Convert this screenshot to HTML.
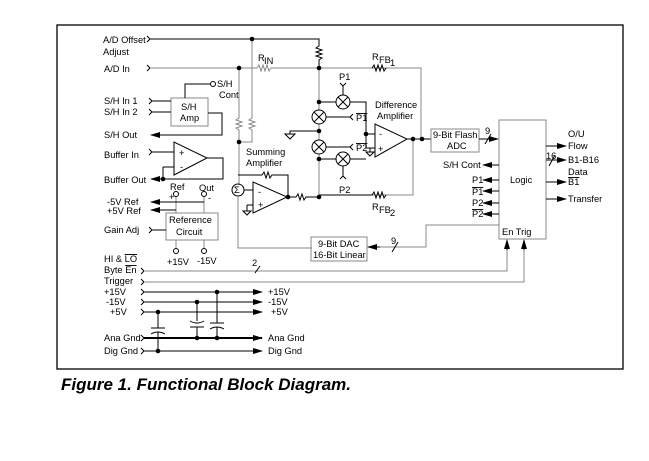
<!DOCTYPE html>
<html><head><meta charset="utf-8"><style>
body{margin:0;background:#fff;width:649px;height:456px;overflow:hidden}
svg text{font-family:"Liberation Sans Narrow","Liberation Sans",sans-serif;font-size:9.3px;fill:#000}
</style></head><body>
<svg width="649" height="456" viewBox="0 0 649 456" xmlns="http://www.w3.org/2000/svg">
<defs>
<marker id="a" markerWidth="10" markerHeight="6" refX="9" refY="3" orient="auto" markerUnits="userSpaceOnUse"><path d="M0,0 L10,3 L0,6 z" fill="#000"/></marker>
</defs>
<g fill="none" stroke="#000" stroke-width="1">
<!-- frame -->
<rect x="57" y="25" width="566" height="344" stroke-width="1.3"/>
<!-- A/D offset -->
<path d="M147,36 l3,3 l-3,3"/><path d="M150,39 H319 V46 l-3,2 l6,2 l-6,2 l6,2 l-6,2 l6,2 l-3,2 V68"/>
<!-- A/D In -->
<path d="M147,65 l3,3 l-3,3"/>
<path d="M150,68 H257 l2,-3 l2,6 l2,-6 l2,6 l2,-6 l2,6 l2,-3 H421 V139" stroke="#888"/>
<path d="M372,68 l2,-3 l2,6 l2,-6 l2,6 l2,-6 l2,6 l2,-3" />
<!-- verticals -->
<path d="M252,39 V118 l-3,2 l6,2 l-6,2 l6,2 l-6,2 l3,2 V142 H239" stroke="#888"/>
<path d="M239,68 V118 l-3,2 l6,2 l-6,2 l6,2 l-6,2 l3,2 V185" stroke="#888"/>
<circle cx="238" cy="190" r="6"/>
<path d="M238,196 V248 H312" stroke="#888"/>
<!-- summing amp -->
<path d="M253,182 L253,213 L287,197 Z"/>
<path d="M238,175 H262 l2,-3 l2,6 l2,-6 l2,6 l2,-3 H288 V197" stroke="#000"/>
<path d="M244,190 H253"/><path d="M247,205 H253"/><path d="M247,205 V211 M243,211 h8 l-4,4 z"/>
<path d="M287,197 H296 l2,-3 l2,6 l2,-6 l2,6 l2,-3 H319"/>
<!-- left vertical in diff section -->
<path d="M319,68 V195 H413 V139" stroke="#888"/>
<path d="M319,195 H372 l2,-3 l2,6 l2,-6 l2,6 l2,-6 l2,6 l2,-3" stroke="#000"/>
<!-- multipliers -->
<circle cx="319" cy="117" r="7" fill="#fff"/><path d="M314,112 l10,10 M324,112 l-10,10"/>
<circle cx="319" cy="147" r="7" fill="#fff"/><path d="M314,142 l10,10 M324,142 l-10,10"/>
<circle cx="343" cy="102" r="7" fill="#fff"/><path d="M338,97 l10,10 M348,97 l-10,10"/>
<circle cx="343" cy="159" r="7" fill="#fff"/><path d="M338,154 l10,10 M348,154 l-10,10"/>
<path d="M319,102 H336 M319,159 H336"/>
<path d="M343,95 V86 M340,83 l3,3 l3,-3 M343,166 V176 M340,179 l3,-3 l3,3"/>
<path d="M326,117 H350 M353,114 l-3,3 l3,3 M326,147 H350 M353,144 l-3,3 l3,3"/>
<path d="M350,102 H366 V148 H375 M350,159 H366 M366,134 H375"/>
<path d="M319,131 H290 V134 M285,134 h10 l-5,5 z"/>
<path d="M370,148 V152 M366,152 h8 l-4,4 z"/>
<!-- diff amp -->
<path d="M375,124 L375,157 L407,139 Z"/>
<path d="M407,139 H431"/>
<!-- ADC -->
<rect x="431" y="129" width="48" height="23" stroke="#888"/>
<path d="M479,139 H498" marker-end="url(#a)"/><path d="M485,144 l6,-10"/>
<!-- logic -->
<rect x="499" y="120" width="47" height="119" stroke="#888"/>
<path d="M499,165 H483" marker-end="url(#a)"/>
<path d="M499,180 H483" marker-end="url(#a)"/><path d="M499,191 H483" marker-end="url(#a)"/>
<path d="M499,203 H483" marker-end="url(#a)"/><path d="M499,214 H483" marker-end="url(#a)"/>
<path d="M546,146 H566" marker-end="url(#a)"/><path d="M546,160 H566" marker-end="url(#a)"/><path d="M549,166 l6,-11"/>
<path d="M546,182 H566" marker-end="url(#a)"/><path d="M546,199 H566" marker-end="url(#a)"/>
<!-- DAC -->
<rect x="311" y="237" width="56" height="24" stroke="#888"/>
<path d="M499,225 H426 V247 H368" stroke="#888"/>
<path d="M380,247 H368" marker-end="url(#a)"/><path d="M392,252 l6,-10"/>
<!-- S/H amp -->
<rect x="171" y="98" width="37" height="28" stroke="#888"/>
<path d="M149,98 l3,3 l-3,3 M152,101 H171 M149,109 l3,3 l-3,3 M152,112 H171"/>
<path d="M185,98 V84 H210"/><circle cx="213" cy="84" r="2.5"/>
<path d="M208,113 H222 V135 H151" marker-end="url(#a)"/>
<!-- buffer -->
<path d="M174,142 L174,175 L207,158 Z"/>
<path d="M149,149 l3,3 l-3,3 M152,152 H174 M163,167 H174 M163,167 V179"/>
<path d="M207,158 H223 V179 H151" marker-end="url(#a)"/>
<!-- reference -->
<rect x="166" y="213" width="52" height="27" stroke="#888"/>
<circle cx="176" cy="194" r="2.5"/><circle cx="204" cy="194" r="2.5"/>
<path d="M176,197 V213 M204,197 V213" stroke="#888"/>
<path d="M204,202 H151" marker-end="url(#a)"/><path d="M176,210 H151" marker-end="url(#a)"/>
<path d="M149,227 l3,3 l-3,3 M152,230 H166"/>
<path d="M176,240 V248 M204,240 V248" stroke="#888"/>
<circle cx="176" cy="251" r="2.5"/><circle cx="204" cy="251" r="2.5"/>
<!-- bottom lines -->
<path d="M141,268 l3,3 l-3,3 M141,279 l3,3 l-3,3"/>
<path d="M144,271 H507 V241" stroke="#888"/><path d="M144,282 H524 V241" stroke="#888"/>
<path d="M507,250 V240" marker-end="url(#a)"/><path d="M524,250 V240" marker-end="url(#a)"/>
<path d="M255,273 l5,-7"/>
<path d="M141,289 l3,3 l-3,3 M141,299 l3,3 l-3,3 M141,309 l3,3 l-3,3 M141,335 l3,3 l-3,3 M141,348 l3,3 l-3,3"/>
<path d="M144,292 H262" marker-end="url(#a)"/><path d="M144,302 H262" marker-end="url(#a)"/><path d="M144,312 H262" marker-end="url(#a)"/>
<path d="M144,338 H262" stroke-width="2" marker-end="url(#a)"/><path d="M144,351 H262" marker-end="url(#a)"/>
<path d="M158,312 V328 M151,328 H165 M151,334 q7,-4 14,0 M158,332 V351"/>
<path d="M197,302 V321 M190,321 q7,4 14,0 M190,327 H204 M197,327 V338"/>
<path d="M217,292 V323 M210,323 H224 M210,329 q7,-4 14,0 M217,327 V338"/>
</g>
<g fill="#000">
<circle cx="252" cy="39" r="2.3"/><circle cx="239" cy="68" r="2.3"/><circle cx="319" cy="68" r="2.3"/><circle cx="239" cy="142" r="2.3"/>
<circle cx="288" cy="197" r="2.3"/><circle cx="319" cy="197" r="2.3"/><circle cx="319" cy="102" r="2.3"/><circle cx="319" cy="131" r="2.3"/>
<circle cx="319" cy="159" r="2.3"/><circle cx="366" cy="134" r="2.3"/><circle cx="413" cy="139" r="2.3"/><circle cx="422" cy="139" r="2.3"/>
<circle cx="163" cy="179" r="2.3"/><circle cx="158" cy="312" r="2.3"/><circle cx="158" cy="351" r="2.3"/><circle cx="197" cy="302" r="2.3"/>
<circle cx="197" cy="338" r="2.3"/><circle cx="217" cy="292" r="2.3"/><circle cx="217" cy="338" r="2.3"/>
</g>
<text x="103" y="43">A/D Offset</text><text x="103" y="55">Adjust</text><text x="104" y="72">A/D In</text>
<text x="258" y="61">R</text><text x="264" y="64" font-size="8">IN</text>
<text x="217" y="87">S/H</text><text x="219" y="98">Cont</text>
<text x="181" y="110">S/H</text><text x="180" y="121">Amp</text>
<text x="104" y="104">S/H In 1</text><text x="104" y="115">S/H In 2</text><text x="104" y="138">S/H Out</text>
<text x="104" y="158">Buffer In</text><text x="104" y="183">Buffer Out</text>
<text x="179" y="156" font-size="8">+</text><text x="180" y="170" font-size="8">-</text>
<text x="246" y="155">Summing</text><text x="246" y="166">Amplifier</text>
<text x="234" y="193" font-size="8">Σ</text>
<text x="258" y="195" font-size="8">-</text><text x="258" y="208" font-size="8">+</text>
<text x="170" y="190">Ref</text><text x="199" y="191">Out</text>
<text x="169" y="200">+</text><text x="208" y="201">-</text>
<text x="107" y="205">-5V Ref</text><text x="107" y="214">+5V Ref</text><text x="104" y="233">Gain Adj</text>
<text x="169" y="223">Reference</text><text x="176" y="235">Circuit</text>
<text x="167" y="265">+15V</text><text x="197" y="264">-15V</text>
<text x="104" y="262">HI &amp; <tspan text-decoration="overline">LO</tspan></text>
<text x="104" y="273">Byte <tspan text-decoration="overline">En</tspan></text><text x="104" y="284">Trigger</text>
<text x="104" y="295">+15V</text><text x="106" y="305">-15V</text><text x="110" y="315">+5V</text>
<text x="104" y="341">Ana Gnd</text><text x="104" y="354">Dig Gnd</text>
<text x="252" y="266">2</text>
<text x="268" y="295">+15V</text><text x="268" y="305">-15V</text><text x="271" y="315">+5V</text>
<text x="268" y="341">Ana Gnd</text><text x="268" y="354">Dig Gnd</text>
<text x="372" y="60">R</text><text x="379" y="63" font-size="8">FB</text><text x="390" y="66" font-size="8">1</text>
<text x="372" y="210">R</text><text x="379" y="213" font-size="8">FB</text><text x="390" y="216" font-size="8">2</text>
<text x="339" y="80">P1</text><text x="339" y="193">P2</text>
<text x="356" y="121" text-decoration="overline">P1</text><text x="356" y="151" text-decoration="overline">P2</text>
<text x="375" y="108">Difference</text><text x="377" y="119">Amplifier</text>
<text x="379" y="137" font-size="8">-</text><text x="378" y="152" font-size="8">+</text>
<text x="433" y="138">9-Bit Flash</text><text x="447" y="149">ADC</text>
<text x="485" y="134">9</text>
<text x="443" y="168">S/H Cont</text>
<text x="472" y="183">P1</text><text x="472" y="195" text-decoration="overline">P1</text>
<text x="472" y="206">P2</text><text x="472" y="217" text-decoration="overline">P2</text>
<text x="510" y="183">Logic</text><text x="502" y="235">En Trig</text>
<text x="568" y="137">O/U</text><text x="568" y="149">Flow</text>
<text x="546" y="159">16</text><text x="568" y="163">B1-B16</text><text x="568" y="175">Data</text>
<text x="568" y="185" text-decoration="overline">B1</text><text x="568" y="202">Transfer</text>
<text x="318" y="247">9-Bit DAC</text><text x="313" y="258">16-Bit Linear</text>
<text x="391" y="244">9</text>
<text x="61" y="390" style="font-family:'Liberation Sans',sans-serif;font-size:17px;font-weight:bold;font-style:italic">Figure 1. Functional Block Diagram.</text>
</svg>
</body></html>
